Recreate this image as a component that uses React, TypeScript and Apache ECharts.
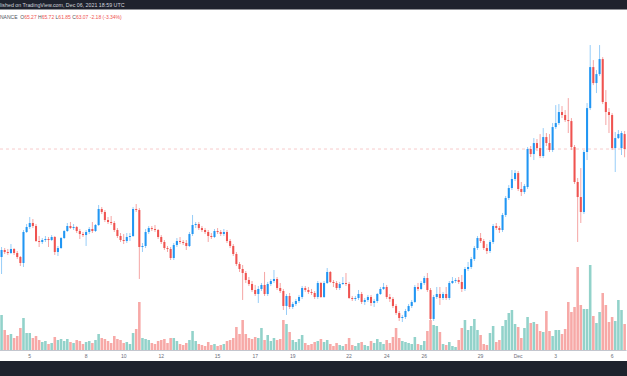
import React, { useEffect, useRef } from 'react';
import * as echarts from 'echarts';

// 4h candles, LUNA/USDT (Binance), Nov 3 12:00 UTC -> Dec 6 16:00 UTC
const START_UTC = Date.UTC(2021, 10, 3, 12, 0);
const BAR_HOURS = 4;

const OPEN = [
  47.19, 48.22, 47.93, 47.78, 48.37, 47.78, 47.19, 46.31, 50.87, 51.6,
  52.19, 51.75, 49.54, 49.4, 49.69, 49.84, 49.69, 50.13, 47.93, 48.51,
  49.98, 51.01, 51.75, 51.45, 51.6, 51.01, 50.57, 50.42, 50.87, 51.31,
  51.01, 51.9, 54.25, 53.81, 52.63, 52.34, 52.19, 51.16, 50.28, 49.69,
  49.54, 50.13, 50.28, 54.25, 54.1, 48.66, 48.81, 50.87, 51.45, 51.31,
  51.16, 50.13, 49.4, 48.51, 48.37, 47.04, 48.96, 49.54, 49.4, 49.25,
  48.81, 50.57, 51.9, 52.04, 51.45, 51.16, 50.87, 50.28, 50.13, 51.01,
  50.87, 50.57, 50.87, 49.54, 48.81, 47.63, 46.16, 45.43, 44.84, 43.81,
  43.22, 42.34, 41.75, 42.49, 43.08, 41.75, 43.22, 43.66, 43.96, 42.63,
  42.19, 39.99, 41.46, 39.84, 40.28, 40.72, 41.31, 42.63, 42.34, 42.05,
  41.9, 41.31, 43.37, 41.31, 43.37, 44.99, 43.52, 43.37, 42.63, 43.22,
  43.37, 43.22, 41.16, 41.02, 41.16, 41.75, 40.58, 40.87, 41.31, 40.43,
  40.72, 41.75, 42.49, 42.78, 41.31, 41.02, 39.99, 38.96, 38.22, 38.37,
  39.25, 39.99, 40.58, 42.78, 42.49, 43.37, 44.1, 42.34, 38.08, 41.31,
  41.75, 41.16, 41.75, 41.16, 43.37, 43.66, 43.81, 43.52, 42.49, 45.43,
  45.72, 46.9, 48.51, 49.98, 49.54, 48.51, 48.07, 49.4, 51.75, 51.45,
  51.16, 53.37, 55.86, 57.33, 58.66, 59.54, 57.19, 56.75, 57.48, 63.07,
  62.33, 63.95, 63.21, 62.04, 64.83, 63.95, 62.92, 66.3, 66.89, 68.51,
  68.07, 67.33, 67.18, 63.36, 58.22, 56.01, 53.81, 62.63, 69.09, 75.12,
  72.77, 74.09, 76.3, 69.98, 68.51, 68.07, 63.21, 64.68, 63.21, 65.27,
];

const CLOSE = [
  48.22, 47.93, 47.78, 48.37, 47.78, 47.19, 46.31, 50.87, 51.6, 52.19,
  51.75, 49.54, 49.4, 49.69, 49.84, 49.69, 50.13, 47.93, 48.51, 49.98,
  51.01, 51.75, 51.45, 51.6, 51.01, 50.57, 50.42, 50.87, 51.31, 51.01,
  51.9, 54.25, 53.81, 52.63, 52.34, 52.19, 51.16, 50.28, 49.69, 49.54,
  50.13, 50.28, 54.25, 54.1, 48.66, 48.81, 50.87, 51.45, 51.31, 51.16,
  50.13, 49.4, 48.51, 48.37, 47.04, 48.96, 49.54, 49.4, 49.25, 48.81,
  50.57, 51.9, 52.04, 51.45, 51.16, 50.87, 50.28, 50.13, 51.01, 50.87,
  50.57, 50.87, 49.54, 48.81, 47.63, 46.16, 45.43, 44.84, 43.81, 43.22,
  42.34, 41.75, 42.49, 43.08, 41.75, 43.22, 43.66, 43.96, 42.63, 42.19,
  39.99, 41.46, 39.84, 40.28, 40.72, 41.31, 42.63, 42.34, 42.05, 41.9,
  41.31, 43.37, 41.31, 43.37, 44.99, 43.52, 43.37, 42.63, 43.22, 43.37,
  43.22, 41.16, 41.02, 41.16, 41.75, 40.58, 40.87, 41.31, 40.43, 40.72,
  41.75, 42.49, 42.78, 41.31, 41.02, 39.99, 38.96, 38.22, 38.37, 39.25,
  39.99, 40.58, 42.78, 42.49, 43.37, 44.1, 42.34, 38.08, 41.31, 41.75,
  41.16, 41.75, 41.16, 43.37, 43.66, 43.81, 43.52, 42.49, 45.43, 45.72,
  46.9, 48.51, 49.98, 49.54, 48.51, 48.07, 49.4, 51.75, 51.45, 51.16,
  53.37, 55.86, 57.33, 58.66, 59.54, 57.19, 56.75, 57.63, 63.07, 62.33,
  63.95, 63.21, 62.04, 64.83, 63.95, 62.92, 66.3, 66.89, 68.51, 68.07,
  67.33, 67.18, 63.36, 58.22, 56.01, 53.81, 62.63, 69.09, 75.12, 72.77,
  74.09, 76.3, 69.98, 68.51, 68.07, 63.21, 64.68, 65.27, 65.42, 63.07,
];

const LOW = [
  44.69, 47.63, 47.49, 47.63, 47.49, 46.9, 45.87, 45.72, 50.72, 51.31,
  51.45, 49.4, 48.66, 49.1, 49.4, 48.66, 49.54, 47.49, 47.34, 48.37,
  49.84, 50.87, 51.31, 51.16, 50.72, 49.84, 50.13, 48.81, 50.57, 50.72,
  50.87, 51.75, 53.51, 52.34, 52.04, 51.9, 50.87, 49.98, 49.4, 49.1,
  49.25, 49.54, 50.13, 53.81, 43.96, 47.93, 48.51, 50.57, 51.01, 50.87,
  49.84, 49.1, 48.22, 47.93, 46.75, 46.75, 48.66, 49.1, 48.96, 48.22,
  48.66, 50.28, 51.45, 51.16, 50.87, 50.57, 49.4, 49.84, 49.98, 50.57,
  50.28, 50.28, 49.25, 48.51, 47.34, 45.87, 44.99, 40.87, 43.37, 42.93,
  42.05, 41.46, 40.43, 42.19, 41.46, 41.46, 42.93, 43.37, 42.34, 41.9,
  39.4, 38.67, 39.55, 39.55, 39.99, 40.43, 41.02, 42.05, 41.75, 41.61,
  41.02, 41.02, 41.16, 41.16, 43.22, 43.37, 42.78, 42.34, 42.34, 43.08,
  42.93, 41.02, 40.72, 40.72, 40.87, 40.28, 40.14, 40.58, 39.99, 39.84,
  40.43, 41.61, 42.34, 41.02, 40.58, 39.69, 38.67, 37.78, 37.63, 38.08,
  39.11, 39.69, 40.43, 42.19, 42.34, 43.08, 42.05, 37.63, 37.78, 41.02,
  40.14, 40.87, 40.87, 40.87, 43.22, 43.37, 43.22, 42.05, 42.19, 45.13,
  45.43, 46.6, 48.22, 49.25, 48.22, 47.63, 47.78, 49.1, 51.16, 50.72,
  50.87, 53.07, 55.57, 57.04, 58.36, 56.89, 56.16, 56.45, 57.19, 61.89,
  61.45, 62.77, 61.74, 61.74, 63.51, 62.63, 62.63, 66.01, 66.6, 67.62,
  67.04, 65.42, 62.92, 57.92, 49.4, 52.19, 53.51, 61.45, 68.8, 72.47,
  71.3, 73.8, 69.68, 66.6, 65.42, 62.92, 59.69, 64.54, 62.19, 61.85,
];

const HIGH = [
  48.66, 48.51, 48.37, 49.1, 48.51, 48.07, 47.34, 51.16, 52.04, 53.07,
  52.78, 52.04, 50.28, 49.98, 50.28, 50.13, 50.42, 50.28, 48.81, 50.13,
  51.16, 52.19, 52.34, 52.04, 51.75, 51.31, 50.87, 51.16, 51.6, 52.34,
  52.04, 54.84, 54.54, 54.1, 53.07, 53.22, 52.48, 51.45, 50.72, 50.57,
  50.72, 50.72, 54.54, 54.98, 54.39, 49.25, 51.31, 51.75, 51.75, 51.9,
  51.31, 50.42, 49.69, 48.81, 48.66, 49.25, 49.98, 50.13, 49.69, 49.69,
  50.87, 53.37, 52.34, 52.34, 51.75, 51.45, 51.16, 50.72, 51.31, 51.45,
  51.16, 51.31, 51.16, 49.84, 49.1, 47.93, 46.46, 46.02, 45.13, 44.25,
  43.66, 43.08, 42.93, 43.37, 44.99, 43.52, 43.96, 45.28, 44.25, 43.37,
  42.49, 41.75, 41.9, 40.58, 41.02, 41.61, 42.93, 42.93, 42.78, 42.49,
  42.19, 43.66, 43.52, 43.66, 45.57, 45.13, 43.81, 43.66, 43.52, 44.25,
  44.84, 43.52, 41.46, 41.46, 42.34, 42.05, 41.16, 41.61, 41.61, 41.02,
  41.9, 42.78, 43.37, 43.08, 41.75, 41.31, 40.28, 39.25, 38.67, 39.55,
  40.28, 40.87, 43.08, 43.37, 43.66, 44.4, 44.84, 42.63, 41.61, 42.78,
  42.78, 42.05, 42.78, 43.66, 44.25, 44.1, 44.25, 44.55, 45.72, 46.46,
  47.19, 48.81, 50.28, 50.72, 49.84, 49.1, 49.69, 52.04, 52.19, 51.75,
  53.66, 56.16, 57.77, 59.98, 59.98, 59.84, 58.22, 57.92, 63.36, 63.51,
  64.68, 64.54, 65.27, 66.15, 65.42, 65.27, 66.89, 69.53, 69.68, 69.39,
  68.8, 70.56, 67.62, 63.66, 58.81, 60.27, 62.92, 69.83, 78.36, 76.15,
  74.68, 78.36, 76.59, 71.74, 69.09, 68.36, 65.57, 65.86, 65.71, 65.72,
];

// volume, thousands of LUNA
const VOLUME = [
  700, 400, 300, 320, 240, 280, 440, 640, 340, 340,
  240, 280, 200, 160, 180, 120, 140, 260, 200, 220,
  180, 220, 160, 140, 200, 180, 120, 160, 180, 140,
  200, 320, 240, 220, 180, 140, 280, 220, 200, 140,
  160, 120, 340, 420, 960, 240, 220, 200, 140, 120,
  180, 200, 220, 140, 240, 240, 180, 120, 100, 140,
  200, 380, 180, 120, 100, 80, 160, 100, 120, 80,
  100, 120, 180, 200, 240, 460, 320, 600, 320, 240,
  220, 260, 240, 440, 200, 300, 180, 240, 200, 220,
  600, 520, 360, 200, 160, 220, 300, 140, 100, 120,
  160, 180, 220, 160, 200, 120, 80, 140, 100, 80,
  120, 240, 100, 80, 140, 160, 100, 80, 180, 140,
  220, 160, 120, 200, 140, 260, 440, 240, 180, 160,
  140, 120, 260, 120, 100, 180, 380, 600, 500, 480,
  360, 120, 100, 160, 80, 60, 200, 440, 600, 400,
  480, 620, 400, 300, 120, 100, 340, 480, 160, 200,
  480, 600, 740, 800, 520, 460, 240, 440, 660, 540,
  560, 520, 380, 360, 780, 380, 280, 400, 400, 320,
  420, 960, 760, 860, 1660, 900, 820, 820, 1700, 680,
  540, 760, 1140, 900, 560, 660, 580, 1000, 800, 520,
];

const TICK_LABELS: [string, string][] = [
  ['2021-11-05 00:00', '5'],
  ['2021-11-08 00:00', '8'],
  ['2021-11-10 00:00', '10'],
  ['2021-11-12 00:00', '12'],
  ['2021-11-15 00:00', '15'],
  ['2021-11-17 00:00', '17'],
  ['2021-11-19 00:00', '19'],
  ['2021-11-22 00:00', '22'],
  ['2021-11-24 00:00', '24'],
  ['2021-11-26 00:00', '26'],
  ['2021-11-29 00:00', '29'],
  ['2021-12-01 00:00', 'Dec'],
  ['2021-12-03 00:00', '3'],
  ['2021-12-06 00:00', '6'],
];

// texts as visible in the (cropped) screenshot
const HEADER_TEXT = 'lished on TradingView.com, Dec 06, 2021 18:59 UTC';
const EXCHANGE = 'NANCE';
const CHANGE_TEXT = '-2.18 (-3.34%)';

const BODY_UP = '#2196f3';
const BODY_DOWN = '#ef5350';
const WICK_UP = '#97cdf8';
const WICK_DOWN = '#f5a5a4';
const VOL_UP = '#92d2ca';
const VOL_DOWN = '#f7a9a7';
const PRICE_LINE = '#f7cccc';
const DARK = '#1e222d';
const FONT = 'Liberation Sans';

const pad = (n: number) => (n < 10 ? '0' + n : '' + n);
const CATEGORIES: string[] = OPEN.map((_, i) => {
  const d = new Date(START_UTC + i * BAR_HOURS * 3600 * 1000);
  return `${d.getUTCFullYear()}-${pad(d.getUTCMonth() + 1)}-${pad(d.getUTCDate())} ${pad(d.getUTCHours())}:${pad(d.getUTCMinutes())}`;
});
const TICK_MAP = new Map(TICK_LABELS);

export default function App() {
  const ref = useRef<HTMLDivElement>(null);

  useEffect(() => {
    if (!ref.current) return;
    const chart = echarts.init(ref.current, undefined, { renderer: 'svg' });
    const n = OPEN.length;
    const lastO = OPEN[n - 1], lastH = HIGH[n - 1], lastL = LOW[n - 1], lastC = CLOSE[n - 1];

    const candleData = OPEN.map((o, i) => [i, o, CLOSE[i], LOW[i], HIGH[i]]);
    const volData = VOLUME.map((v, i) => ({
      value: v,
      itemStyle: { color: CLOSE[i] >= OPEN[i] ? VOL_UP : VOL_DOWN },
    }));
    // horizontal last-price line spanning the whole pane
    const priceLineData = [
      [0, lastC],
      [n - 1, lastC],
    ];

    const renderCandle = (_params: any, api: any) => {
      const i = api.value(0);
      const o = api.value(1), c = api.value(2), l = api.value(3), h = api.value(4);
      const po = api.coord([i, o]);
      const pc = api.coord([i, c]);
      const pl = api.coord([i, l]);
      const ph = api.coord([i, h]);
      const bw = api.size([1, 0])[0];
      const w = bw * 0.66;
      const x = po[0];
      const up = c >= o;
      const top = Math.min(po[1], pc[1]);
      const hh = Math.max(Math.abs(po[1] - pc[1]), 1);
      return {
        type: 'group',
        children: [
          {
            type: 'line',
            shape: { x1: x, y1: ph[1], x2: x, y2: pl[1] },
            style: { stroke: up ? WICK_UP : WICK_DOWN, lineWidth: 1 },
          },
          {
            type: 'rect',
            shape: { x: x - w / 2, y: top, width: w, height: hh },
            style: { fill: up ? BODY_UP : BODY_DOWN },
          },
        ],
      };
    };

    // price line drawn through the axes, extended over the full plot width
    const renderPriceLine = (params: any, api: any) => {
      if (api.value(0) !== 0) return null;
      const p = api.coord([0, api.value(1)]);
      const cs = params.coordSys;
      return {
        type: 'line',
        shape: { x1: cs.x, y1: p[1], x2: cs.x + cs.width, y2: p[1] },
        style: { stroke: PRICE_LINE, lineWidth: 1, lineDash: [3, 3] },
      };
    };

    const fmt = (v: number) => v.toFixed(2);
    const legendText =
      `{g|${EXCHANGE}  O}{r|${fmt(lastO)}}{g| H}{r|${fmt(lastH)}}{g| L}{r|${fmt(lastL)}}{g| C}{r|${fmt(lastC)}} {r|${CHANGE_TEXT}}`;

    chart.setOption({
      animation: false,
      backgroundColor: '#ffffff',
      grid: [
        { left: -0.8, right: 0.8, top: 20.3, height: 319.6 },
        { left: -0.8, right: 0.8, top: 265, height: 85 },
      ],
      xAxis: [
        {
          type: 'category',
          gridIndex: 0,
          data: CATEGORIES,
          boundaryGap: true,
          show: false,
        },
        {
          type: 'category',
          gridIndex: 1,
          data: CATEGORIES,
          boundaryGap: true,
          axisLine: { show: true, lineStyle: { color: '#c3c6ce', width: 1 } },
          axisTick: { show: false },
          splitLine: { show: false },
          axisLabel: {
            show: true,
            interval: (_idx: number, value: string) => TICK_MAP.has(value),
            formatter: (value: string) => TICK_MAP.get(value) || '',
            color: '#6b6e79',
            fontSize: 5,
            fontFamily: FONT,
            margin: 3.5,
          },
        },
      ],
      yAxis: [
        { type: 'value', gridIndex: 0, min: 35, max: 82, show: false, splitLine: { show: false } },
        { type: 'value', gridIndex: 1, min: 0, max: 1700, show: false, splitLine: { show: false } },
      ],
      series: [
        {
          type: 'bar',
          xAxisIndex: 1,
          yAxisIndex: 1,
          data: volData,
          barWidth: '82%',
          silent: true,
        },
        {
          type: 'custom',
          xAxisIndex: 0,
          yAxisIndex: 0,
          data: priceLineData,
          encode: { x: 0, y: 1 },
          renderItem: renderPriceLine,
          silent: true,
          z: 1,
        },
        {
          type: 'custom',
          xAxisIndex: 0,
          yAxisIndex: 0,
          data: candleData,
          encode: { x: 0, y: [1, 2, 3, 4] },
          renderItem: renderCandle,
          silent: true,
          z: 2,
        },
      ],
      graphic: [
        { type: 'rect', z: 100, shape: { x: 0, y: 0, width: 627, height: 9.5 }, style: { fill: DARK } },
        { type: 'rect', z: 100, shape: { x: 0, y: 361, width: 627, height: 15 }, style: { fill: DARK } },
        {
          type: 'text',
          z: 101,
          x: 0,
          y: 5,
          style: {
            text: HEADER_TEXT,
            fill: '#d1d4dc',
            fontSize: 5.3,
            fontFamily: FONT,
            verticalAlign: 'middle',
          },
        },
        {
          type: 'text',
          z: 101,
          x: 0,
          y: 16.6,
          style: {
            text: legendText,
            fontSize: 5,
            fontFamily: FONT,
            verticalAlign: 'middle',
            rich: {
              g: { fill: '#50535e', fontSize: 5, fontFamily: FONT },
              r: { fill: '#ef5350', fontSize: 5, fontFamily: FONT },
            },
          },
        },
      ],
    });

    return () => chart.dispose();
  }, []);

  return (
    <div
      ref={ref}
      style={{ position: 'fixed', left: 0, top: 0, width: 627, height: 376, background: '#fff' }}
    />
  );
}
